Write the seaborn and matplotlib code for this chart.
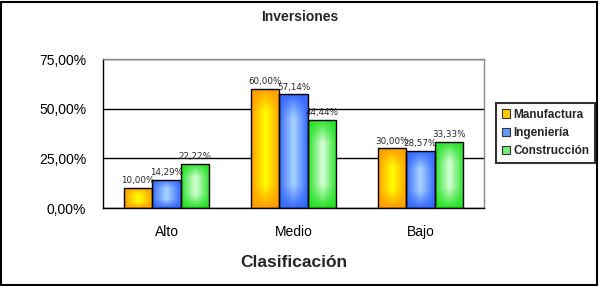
import numpy as np
import pandas as pd
import matplotlib
matplotlib.use("Agg")
import matplotlib.pyplot as plt
import seaborn as sns
from matplotlib.colors import to_rgb
from matplotlib.patches import Patch, Rectangle

categories = ["Alto", "Medio", "Bajo"]
series = ["Manufactura", "Ingeniería", "Construcción"]
manufactura = [10.00, 60.00, 30.00]
ingenieria = [14.29, 57.14, 28.57]
construccion = [22.22, 44.44, 33.33]
y_ticks = [0, 25, 50, 75]
y_tick_labels = ["0,00%", "25,00%", "50,00%", "75,00%"]

edge_colors = ["#FF9900", "#3366FF", "#22E022"]
center_colors = ["#FFFF00", "#A8D4FF", "#D8FFD8"]
legend_colors = ["#FFCC00", "#6699FF", "#77EE77"]

df = pd.DataFrame({
    "cat": categories * 3,
    "serie": [s for s in series for _ in categories],
    "val": manufactura + ingenieria + construccion,
})

sns.set_theme(style="white")
plt.rcParams["font.family"] = ["Liberation Sans", "DejaVu Sans"]

fig = plt.figure(figsize=(6.0, 2.86), dpi=100)
ax = fig.add_axes([103 / 600, 1 - 208 / 286, 381 / 600, 149 / 286])

sns.barplot(data=df, x="cat", y="val", hue="serie", order=categories,
            hue_order=series, palette=edge_colors, width=0.67, gap=0,
            edgecolor="black", linewidth=1.0, saturation=1, ax=ax,
            legend=False)

ax.set_xlim(-0.5, 2.5)
ax.set_ylim(0, 75)
ax.set_yticks(y_ticks)
ax.set_yticklabels(y_tick_labels, fontsize=10, color="black")
ax.tick_params(axis="y", length=0, pad=12)
ax.tick_params(axis="x", length=0, pad=12, labelsize=10, labelcolor="black")
ax.set_xlabel("Clasificación", fontsize=12.5, fontweight="bold", labelpad=12)
ax.set_ylabel("")
ax.yaxis.grid(True, color="black", linewidth=1)
ax.set_axisbelow(True)
for s in ["left", "bottom"]:
    ax.spines[s].set_color("black")
    ax.spines[s].set_linewidth(1)
for s in ["top", "right"]:
    ax.spines[s].set_color("#888888")
    ax.spines[s].set_linewidth(1)


def grad_img(c_edge, c_center, wpx, hpx):
    nx, ny = 60, 160
    u = np.linspace(-1, 1, nx)
    v = np.linspace(-1, 1, ny)
    U, V = np.meshgrid(u, v)
    th = 1 - np.abs(U)
    tv = np.clip((1 - np.abs(V)) * max(1.6, hpx / wpx * 0.6), 0, 1)
    t = np.clip(th * tv, 0, 1) ** 0.9
    ce = np.array(to_rgb(c_edge))
    cc = np.array(to_rgb(c_center))
    return ce[None, None, :] * (1 - t[..., None]) + cc[None, None, :] * t[..., None]


xs_scale = ax.transData.transform([(1, 0)])[0] - ax.transData.transform([(0, 0)])[0]
ys_scale = ax.transData.transform([(0, 1)])[0] - ax.transData.transform([(0, 0)])[0]
for i, cont in enumerate(ax.containers):
    for p in cont.patches:
        x, y0 = p.get_x(), p.get_y()
        w, h = p.get_width(), p.get_height()
        wpx = w * xs_scale[0]
        hpx = h * ys_scale[1]
        img = grad_img(edge_colors[i], center_colors[i], wpx, hpx)
        im = ax.imshow(img, extent=[x, x + w, y0, y0 + h], aspect="auto",
                       zorder=2, interpolation="bilinear", origin="lower")
        im.set_clip_path(p)
        p.set_facecolor("none")
        p.set_zorder(3)
    labels = [f"{v:.2f}%".replace(".", ",") for v in cont.datavalues]
    ax.bar_label(cont, labels=labels, padding=2, fontsize=6.3,
                 family="DejaVu Sans", zorder=4)
ax.set_xlim(-0.5, 2.5)
ax.set_ylim(0, 75)

fig.text(0.5, 1 - 17 / 286, "Inversiones", ha="center", va="center",
         fontsize=10, fontweight="bold")

handles = [Patch(facecolor=c, edgecolor="#333333", linewidth=0.8) for c in legend_colors]
leg = fig.legend(handles, series, loc="center", bbox_to_anchor=(545.5 / 600, 1 - 133 / 286),
                 frameon=True, fancybox=False, prop={"weight": "bold", "size": 8.5},
                 handlelength=0.7, handleheight=0.7, handletextpad=0.3,
                 labelspacing=0.55, borderpad=0.45, borderaxespad=0)
leg.get_frame().set_edgecolor("black")
leg.get_frame().set_linewidth(1.5)

fig.patches.append(Rectangle((0.002, 0.004), 0.993, 0.99, transform=fig.transFigure,
                             fill=False, edgecolor="black", linewidth=1.5))

fig.savefig("out.png", dpi=100, facecolor="white")
